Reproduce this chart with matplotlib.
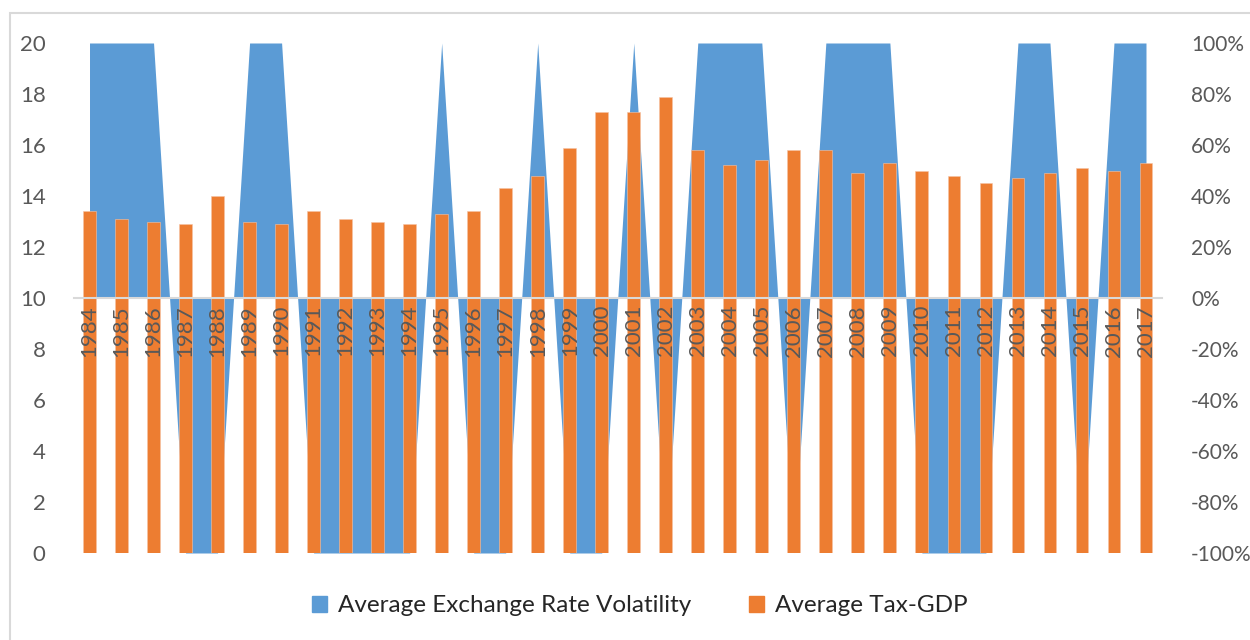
import matplotlib.pyplot as plt
from matplotlib.patches import Patch, Rectangle
from matplotlib.ticker import FuncFormatter

plt.rcParams["font.family"] = ["Lato", "DejaVu Sans"]

years = list(range(1984, 2018))
tax_gdp = [13.4, 13.1, 13.0, 12.9, 14.0, 13.0, 12.9, 13.4, 13.1, 13.0,
           12.9, 13.3, 13.4, 14.3, 14.8, 15.9, 17.3, 17.3, 17.9, 15.8,
           15.2, 15.4, 15.8, 15.8, 14.9, 15.3, 15.0, 14.8, 14.5, 14.7,
           14.9, 15.1, 15.0, 15.3]
fx_volatility = [1, 1, 1, -1, -1, 1, 1, -1, -1, -1,
                 -1, 1, -1, -1, 1, -1, -1, 1, -1, 1,
                 1, 1, -1, 1, 1, 1, -1, -1, -1, 1,
                 1, -1, 1, 1]

BLUE = "#5B9BD5"
ORANGE = "#ED7D31"
GREY = "#595959"

fig = plt.figure(figsize=(12.5, 6.4), dpi=100)
ax = fig.add_axes([73.5 / 1250, 87 / 640, (1162 - 73.5) / 1250, 510 / 640])
ax2 = ax.twinx()

x = list(range(len(years)))

# volatility area on the secondary axis, filled from the 0% line
ax2.fill_between(x, fx_volatility, 0, color=BLUE, lw=0)
ax2.set_ylim(-1, 1)
ax2.set_yticks([i / 10 for i in range(-10, 11, 2)])
ax2.yaxis.set_major_formatter(FuncFormatter(lambda v, _: f"{v:.0%}"))

# tax bars drawn above the area
ax.set_zorder(ax2.get_zorder() + 1)
ax.patch.set_visible(False)
ax.bar(x, tax_gdp, width=0.4, color=ORANGE, edgecolor="#F6C3A5", lw=0.4)
ax.set_ylim(0, 20)
ax.set_yticks(range(0, 21, 2))
ax.set_xlim(-0.5, len(years) - 0.5)
ax.set_xticks(x)
ax.set_xticklabels([str(y) for y in years])

ax.spines["bottom"].set_position(("data", 10))
ax.spines["bottom"].set_color("#D9D9D9")
ax.spines["bottom"].set_linewidth(1.5)
for s in ("top", "left", "right"):
    ax.spines[s].set_visible(False)
for s in ax2.spines.values():
    s.set_visible(False)

ax.tick_params(axis="x", length=0, pad=5, labelsize=16, labelcolor=GREY,
               labelrotation=90)
ax.tick_params(axis="y", length=0, pad=20, labelsize=16, labelcolor=GREY)
ax2.tick_params(axis="y", length=0, pad=21, labelsize=15, labelcolor=GREY)

handles = [Patch(color=BLUE, label="Average Exchange Rate Volatility"),
           Patch(color=ORANGE, label="Average Tax-GDP")]
fig.legend(handles=handles, loc="center", bbox_to_anchor=(0.512, 1 - 606 / 640),
           ncol=2, frameon=False, fontsize=17.5, handlelength=0.6, handleheight=0.6,
           handletextpad=0.45, columnspacing=2.4, labelcolor="#262626")

# chart frame
fig.add_artist(Rectangle((10 / 1250, -0.01), 1.1, 1 - 13 / 640 + 0.01,
                         transform=fig.transFigure, fill=False,
                         ec="#D9D9D9", lw=1.5))

fig.savefig("out.png", dpi=100)
